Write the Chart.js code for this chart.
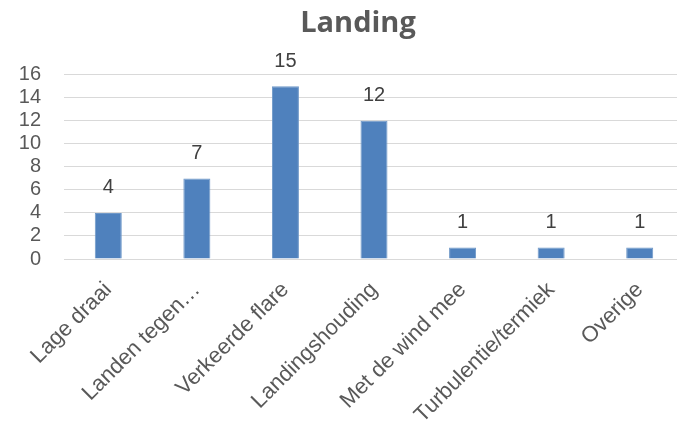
<!DOCTYPE html>
<html>
<head>
<meta charset="utf-8">
<script src="https://cdn.jsdelivr.net/npm/chart.js@4/dist/chart.umd.min.js"></script>
<style>
  html, body { margin: 0; padding: 0; background: #fff; overflow: hidden; }
  #wrap { width: 716px; height: 427px; }
</style>
</head>
<body>
<div id="wrap"><canvas id="chart" width="716" height="427"></canvas></div>
<script>
var categories = ["Lage draai", "Landen tegen…", "Verkeerde flare", "Landingshouding", "Met de wind mee", "Turbulentie/termiek", "Overige"];
var values = [4, 7, 15, 12, 1, 1, 1];
var yTicks = [0, 2, 4, 6, 8, 10, 12, 14, 16];

var fontFamily = "'Liberation Sans', 'DejaVu Sans', sans-serif";
var textColor = "#595959";

// labels above bars
var barLabels = {
  id: 'barLabels',
  afterLayout: function(chart) {
    // center the title over the whole canvas, not the padded box
    if (chart.titleBlock) {
      chart.titleBlock.left = 0;
      chart.titleBlock.right = chart.width;
    }
  },
  afterDatasetsDraw: function(chart) {
    var ctx = chart.ctx;
    var meta = chart.getDatasetMeta(0);
    ctx.save();
    ctx.font = "20px " + fontFamily;
    ctx.fillStyle = "#404040";
    ctx.textAlign = "center";
    ctx.textBaseline = "middle";
    meta.data.forEach(function(bar, i) {
      ctx.fillText(values[i], bar.x, bar.y - 25);
    });
    ctx.restore();
  }
};

new Chart(document.getElementById('chart'), {
  type: 'bar',
  data: {
    labels: categories,
    datasets: [{
      data: values,
      backgroundColor: "#4f81bd",
      borderColor: "#6f98c8",
      borderWidth: 1,
      barPercentage: 0.305,
      categoryPercentage: 1
    }]
  },
  options: {
    responsive: false,
    animation: false,
    layout: { padding: { left: 0, right: 32, top: 6, bottom: 0 } },
    plugins: {
      legend: { display: false },
      tooltip: { enabled: false },
      title: {
        display: true,
        text: "Landing",
        color: textColor,
        font: { family: "'Open Sans', 'Liberation Sans', sans-serif", size: 29, weight: 'bold' },
        padding: { top: 0, bottom: 34 }
      }
    },
    scales: {
      x: {
        grid: { display: false },
        border: { display: true, color: "#d9d9d9", width: 1 },
        ticks: {
          color: textColor,
          font: { family: fontFamily, size: 22 },
          maxRotation: 45,
          minRotation: 45,
          autoSkip: false,
          padding: 10
        },
        afterFit: function(scale) { scale.height = 168; }
      },
      y: {
        min: 0,
        max: 16,
        afterBuildTicks: function(scale) {
          scale.ticks = yTicks.map(function(v) { return { value: v }; });
        },
        grid: { color: "#d9d9d9", lineWidth: 1, drawTicks: false },
        border: { display: false },
        ticks: {
          color: textColor,
          font: { family: fontFamily, size: 20 },
          autoSkip: false,
          padding: 23
        },
        afterFit: function(scale) { scale.width = 64; }
      }
    }
  },
  plugins: [barLabels]
});
</script>
</body>
</html>
